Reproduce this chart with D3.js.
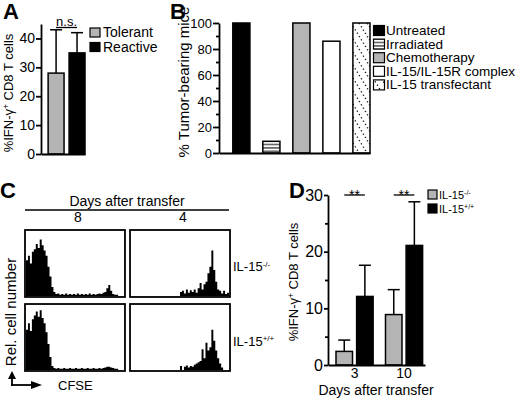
<!DOCTYPE html>
<html>
<head>
<meta charset="utf-8">
<script src="https://cdn.jsdelivr.net/npm/d3@7"></script>
<style>
  body { margin: 0; background: #fff; }
  svg { font-family: "Liberation Sans", Arial, sans-serif; }
</style>
</head>
<body>
<svg id="fig" width="520" height="398"></svg>
<script>
// Panel A
const groupsA = ['Tolerant', 'Reactive'];
const meanA = [28, 35];
const errA = [15, 7];
const ticksA = [0, 10, 20, 30, 40];

// Panel B
const treatmentsB = ['Untreated', 'Irradiated', 'Chemotherapy', 'IL-15/IL-15R complex', 'IL-15 transfectant'];
const tumorB = [100, 9, 100, 86, 100];
const ticksB = [0, 20, 40, 60, 80, 100];
const minorB = [10, 30, 50, 70, 90];

// Panel C (relative cell number per CFSE bin)
const daysC = ['8', '4'];
const miceC = ['-/-', '+/+'];
const histDay8KO = [0.55, 0.62, 0.50, 0.68, 0.72, 0.80, 0.74, 0.87, 0.78, 0.70,
  0.62, 0.45, 0.30, 0.14, 0.06, 0.03, 0.04, 0.02, 0.03, 0.02,
  0.04, 0.02, 0.03, 0.02, 0.03, 0.02, 0.04, 0.02, 0.03, 0.02,
  0.03, 0.02, 0.04, 0.02, 0.03, 0.02, 0.03, 0.04, 0.03, 0.05,
  0.06, 0.12, 0.17, 0.08, 0.03, 0.02, 0.02, 0, 0, 0];
const histDay4KO = [0, 0, 0, 0, 0, 0, 0, 0, 0, 0,
  0, 0, 0, 0, 0, 0, 0, 0, 0, 0,
  0, 0, 0, 0, 0, 0.06, 0.08, 0.04, 0.10, 0.05,
  0.09, 0.06, 0.10, 0.05, 0.12, 0.20, 0.10, 0.18, 0.22, 0.35,
  0.45, 0.70, 0.40, 0.22, 0.10, 0.08, 0.04, 0.08, 0.03, 0.05];
const histDay8WT = [0.62, 0.72, 0.60, 0.78, 0.84, 0.90, 0.82, 0.92, 0.80, 0.72,
  0.58, 0.40, 0.20, 0.06, 0.03, 0.02, 0.03, 0.02, 0.02, 0.03,
  0.02, 0.02, 0.03, 0.02, 0.02, 0.03, 0.02, 0.02, 0.03, 0.02,
  0.02, 0.03, 0.02, 0.02, 0.03, 0.02, 0.02, 0.03, 0.02, 0.03,
  0.04, 0.05, 0.05, 0.04, 0.03, 0.02, 0.02, 0, 0, 0];
const histDay4WT = [0, 0, 0, 0, 0, 0, 0, 0, 0, 0,
  0, 0, 0, 0, 0, 0, 0, 0, 0, 0,
  0, 0, 0, 0, 0, 0.06, 0, 0.05, 0.07, 0.04,
  0.06, 0.05, 0.08, 0.10, 0.12, 0.14, 0.32, 0.18, 0.42, 0.30,
  0.35, 0.62, 0.45, 0.30, 0.18, 0.10, 0.04, 0, 0, 0];

// Panel D
const daysD = ['3', '10'];
const genoD = ['-/-', '+/+'];
const koMeanD = [2.4, 8.9];
const koErrD = [2.0, 4.4];
const wtMeanD = [12.1, 21.1];
const wtErrD = [5.5, 7.7];
const ticksD = [0, 10, 20, 30];
const minorD = [5, 15, 25];

const grey = '#b4b4b4';
const svg = d3.select('#fig');
svg.append('rect').attr('width', 520).attr('height', 398).attr('fill', '#fff');

// patterns
const defs = svg.append('defs');
const stripes = defs.append('pattern').attr('id', 'hstripe')
  .attr('patternUnits', 'userSpaceOnUse').attr('width', 6).attr('height', 3.4);
stripes.append('rect').attr('width', 6).attr('height', 3.4).attr('fill', '#fff');
stripes.append('line').attr('x1', 0).attr('x2', 6).attr('y1', 1.7).attr('y2', 1.7)
  .attr('stroke', '#000').attr('stroke-width', 1);

function dotPattern(id, x0) {
  const p = defs.append('pattern').attr('id', id).attr('patternUnits', 'userSpaceOnUse')
    .attr('x', x0).attr('y', 0).attr('width', 16).attr('height', 26);
  p.append('rect').attr('width', 16).attr('height', 26).attr('fill', '#fff');
  p.append('path').attr('d', 'M0,-13L16,13M0,0L16,26M0,13L16,39')
    .attr('stroke', '#000').attr('stroke-width', 1.2).attr('stroke-dasharray', '1.3,2.6').attr('fill', 'none');
}

function styleAxis(g, fs) {
  g.attr('font-family', null).attr('font-size', fs);
  g.selectAll('path, line').attr('stroke', '#000').attr('stroke-width', 1.8);
  g.selectAll('text').attr('fill', '#000');
}

function yAxis(scale, x, major, minor, fs, size) {
  const g = svg.append('g').attr('transform', `translate(${x},0)`);
  g.call(d3.axisLeft(scale).tickValues(major).tickSize(size).tickSizeOuter(0).tickPadding(1));
  if (minor.length) {
    const m = g.append('g').call(d3.axisLeft(scale).tickValues(minor).tickSize(3).tickFormat('').tickSizeOuter(0));
    m.select('.domain').remove();
  }
  styleAxis(g, fs);
}

function xLine(scale, y, fs, pad) {
  const g = svg.append('g').attr('transform', `translate(0,${y})`);
  g.call(d3.axisBottom(scale).tickSize(0).tickSizeOuter(0).tickPadding(pad));
  if (!fs) g.selectAll('text').remove();
  styleAxis(g, fs || 10);
}

function label(x, y, txt, fs, opts = {}) {
  return svg.append('text').attr('x', x).attr('y', y).attr('font-size', fs)
    .attr('font-weight', opts.bold ? 'bold' : null)
    .attr('text-anchor', opts.anchor || 'start').text(txt);
}

function supLabel(x, y, base, sup, fs, sfs) {
  const t = svg.append('text').attr('x', x).attr('y', y).attr('font-size', fs);
  t.append('tspan').text(base);
  t.append('tspan').attr('dy', -fs * 0.38).attr('font-size', sfs).text(sup);
  return t;
}

function ifnLabel(x, y, fs) {
  const t = svg.append('text').attr('transform', `translate(${x},${y}) rotate(-90)`)
    .attr('text-anchor', 'middle').attr('font-size', fs);
  t.append('tspan').text('%IFN-γ');
  t.append('tspan').attr('dy', -fs * 0.3).attr('font-size', fs * 0.65).text('+');
  t.append('tspan').attr('dy', fs * 0.3).text(' CD8 T cells');
}

// ---------- A ----------
label(3, 19, 'A', 22, { bold: true });
const yA = d3.scaleLinear().domain([0, 45]).range([154, 24]);
const xA = d3.scaleBand().domain(groupsA).range([41, 85]).paddingInner(0.24).paddingOuter(0.17).align(1);

groupsA.forEach((d, i) => {
  const cx = xA(d) + xA.bandwidth() / 2;
  svg.append('line').attr('x1', cx).attr('x2', cx).attr('y1', yA(meanA[i])).attr('y2', yA(meanA[i] + errA[i]))
    .attr('stroke', '#000').attr('stroke-width', 1.5);
  svg.append('line').attr('x1', cx - 6).attr('x2', cx + 6)
    .attr('y1', yA(meanA[i] + errA[i])).attr('y2', yA(meanA[i] + errA[i]))
    .attr('stroke', '#000').attr('stroke-width', 1.5);
});
svg.selectAll('.barA').data(groupsA).enter().append('rect')
  .attr('x', (d) => xA(d)).attr('width', xA.bandwidth())
  .attr('y', (d, i) => yA(meanA[i])).attr('height', (d, i) => yA(0) - yA(meanA[i]))
  .attr('fill', (d, i) => (i === 0 ? grey : '#000')).attr('stroke', '#000').attr('stroke-width', 1.5);
yAxis(yA, 41, ticksA, [], 14, 5);
xLine(xA, 154);
ifnLabel(13, 93, 13);

// n.s.
const nsX1 = xA(groupsA[0]) + xA.bandwidth() / 2;
const nsX2 = xA(groupsA[1]) + xA.bandwidth() / 2;
label((nsX1 + nsX2) / 2, 25.5, 'n.s.', 13, { anchor: 'middle' });
svg.append('line').attr('x1', nsX1).attr('x2', nsX2).attr('y1', 27.5).attr('y2', 27.5)
  .attr('stroke', '#000').attr('stroke-width', 1.3);

// legend A
groupsA.forEach((d, i) => {
  svg.append('rect').attr('x', 90).attr('y', 28 + i * 14.5).attr('width', 10).attr('height', 9)
    .attr('fill', i === 0 ? grey : '#000').attr('stroke', '#000').attr('stroke-width', 1.2);
  label(103, 37 + i * 14.5, d, 14);
});

// ---------- B ----------
label(170, 19, 'B', 22, { bold: true });
const yB = d3.scaleLinear().domain([0, 100]).range([153, 23]);
const xB = d3.scaleBand().domain(treatmentsB).range([219, 370]).paddingInner(0.43).paddingOuter(0.23).align(1);
dotPattern('dotdiag', xB(treatmentsB[4]));
dotPattern('dotleg', 373);
const fillB = ['#000', 'url(#hstripe)', grey, '#fff', 'url(#dotdiag)'];
const legFillB = ['#000', 'url(#hstripe)', grey, '#fff', 'url(#dotleg)'];

svg.selectAll('.barB').data(treatmentsB).enter().append('rect')
  .attr('x', (d) => xB(d)).attr('width', xB.bandwidth())
  .attr('y', (d, i) => yB(tumorB[i])).attr('height', (d, i) => yB(0) - yB(tumorB[i]))
  .attr('fill', (d, i) => fillB[i]).attr('stroke', '#000').attr('stroke-width', 1.5);
yAxis(yB, 219, ticksB, minorB, 13, 6);
xLine(xB, 153);
svg.append('text').attr('transform', 'translate(189,82) rotate(-90)').attr('text-anchor', 'middle')
  .attr('font-size', 15).text('% Tumor-bearing mice');

treatmentsB.forEach((d, i) => {
  svg.append('rect').attr('x', 373.5).attr('y', 25.5 + i * 13.6).attr('width', 11).attr('height', 10)
    .attr('fill', legFillB[i]).attr('stroke', '#000').attr('stroke-width', 1.2);
  label(386, 35 + i * 13.6, d, 13.5);
});

// ---------- C ----------
label(0, 198, 'C', 22, { bold: true });
label(127, 206, 'Days after transfer', 14, { anchor: 'middle' });
svg.append('line').attr('x1', 25).attr('x2', 229).attr('y1', 210).attr('y2', 210)
  .attr('stroke', '#000').attr('stroke-width', 1.5);

const xC = d3.scaleBand().domain(daysC).range([25, 230]).paddingInner(0.048);
const yC = d3.scaleBand().domain(miceC).range([230, 371]).paddingInner(0.095);
const histsC = [[histDay8KO, histDay4KO], [histDay8WT, histDay4WT]];

daysC.forEach((d) => {
  label(xC(d) + xC.bandwidth() / 2 + 3, 222, d, 14, { anchor: 'middle' });
});

miceC.forEach((m, r) => {
  daysC.forEach((d, c) => {
    const vals = histsC[r][c];
    const x0 = xC(d);
    const y0 = yC(m);
    const w = xC.bandwidth();
    const h = yC.bandwidth();
    const hx = d3.scaleLinear().domain([0, vals.length]).range([x0 + 1, x0 + w - 1]);
    const hy = d3.scaleLinear().domain([0, 1]).range([y0 + h - 1, y0 + 1]);
    const pts = vals.map((v, i) => [i, v]).concat([[vals.length, vals[vals.length - 1]]]);
    const area = d3.area().curve(d3.curveStepAfter)
      .x((p) => hx(p[0])).y0(hy(0)).y1((p) => hy(p[1]));
    svg.append('path').datum(pts).attr('d', area).attr('fill', '#000');
    svg.append('rect').attr('x', x0).attr('y', y0).attr('width', w).attr('height', h)
      .attr('fill', 'none').attr('stroke', '#000').attr('stroke-width', 1.8);
  });
  supLabel(233, yC(m) + yC.bandwidth() / 2 + 8, 'IL-15', m, 13, 8);
});

svg.append('text').attr('transform', 'translate(16,312) rotate(-90)').attr('text-anchor', 'middle')
  .attr('font-size', 15).text('Rel. cell number');
svg.append('path').attr('d', 'M12,386V377').attr('stroke', '#000').attr('stroke-width', 1.8);
svg.append('path').attr('d', 'M8,379L12,371L16,379Z').attr('fill', '#000');
svg.append('path').attr('d', 'M11,385H33').attr('stroke', '#000').attr('stroke-width', 1.8);
svg.append('path').attr('d', 'M31,381L42,385L31,389Z').attr('fill', '#000');
label(58, 390, 'CFSE', 13);

// ---------- D ----------
label(289, 198, 'D', 22, { bold: true });
const yD = d3.scaleLinear().domain([0, 30]).range([365, 195]);
const xD = d3.scaleBand().domain(daysD).range([328, 425]).paddingInner(0.25).paddingOuter(0.105).align(0.77);
const xSub = d3.scaleBand().domain(genoD).range([0, xD.bandwidth()]).paddingInner(0.2);
const meansD = [koMeanD, wtMeanD];
const errsD = [koErrD, wtErrD];

daysD.forEach((d, j) => {
  genoD.forEach((g, k) => {
    const x0 = xD(d) + xSub(g);
    const cx = x0 + xSub.bandwidth() / 2;
    const v = meansD[k][j];
    const e = errsD[k][j];
    svg.append('line').attr('x1', cx).attr('x2', cx).attr('y1', yD(v)).attr('y2', yD(v + e))
      .attr('stroke', '#000').attr('stroke-width', 1.5);
    svg.append('line').attr('x1', cx - 6).attr('x2', cx + 6).attr('y1', yD(v + e)).attr('y2', yD(v + e))
      .attr('stroke', '#000').attr('stroke-width', 1.5);
    svg.append('rect').attr('x', x0).attr('width', xSub.bandwidth())
      .attr('y', yD(v)).attr('height', yD(0) - yD(v))
      .attr('fill', k === 0 ? grey : '#000').attr('stroke', '#000').attr('stroke-width', 1.5);
  });
  // significance
  const c1 = xD(d) + xSub(genoD[0]) + xSub.bandwidth() / 2;
  const c2 = xD(d) + xSub(genoD[1]) + xSub.bandwidth() / 2;
  svg.append('line').attr('x1', c1).attr('x2', c2).attr('y1', yD(30)).attr('y2', yD(30))
    .attr('stroke', '#000').attr('stroke-width', 1.3);
  label((c1 + c2) / 2, 200, '**', 14, { anchor: 'middle' });
});
yAxis(yD, 328, ticksD, minorD, 16, 4);
xLine(xD, 365, 14, 3);
ifnLabel(298, 282, 13);
label(376, 395, 'Days after transfer', 14, { anchor: 'middle' });

genoD.forEach((g, k) => {
  svg.append('rect').attr('x', 428).attr('y', 190 + k * 14).attr('width', 9).attr('height', 9)
    .attr('fill', k === 0 ? grey : '#000').attr('stroke', '#000').attr('stroke-width', 1.2);
  supLabel(439, 199 + k * 14, 'IL-15', g, 11, 7);
});
</script>
</body>
</html>
